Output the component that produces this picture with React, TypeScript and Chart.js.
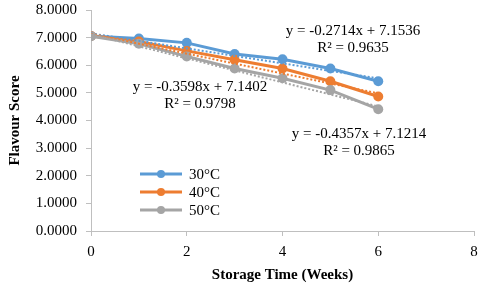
import React, { useEffect, useRef } from "react";
import { Chart, registerables } from "chart.js";

Chart.register(...registerables);

const weeks = [0, 1, 2, 3, 4, 5, 6];
const seriesLabels = ["30°C", "40°C", "50°C"];
const scores30 = [7.06, 6.97, 6.81, 6.41, 6.22, 5.88, 5.42];
const scores40 = [7.06, 6.86, 6.52, 6.2, 5.88, 5.42, 4.87];
const scores50 = [7.05, 6.78, 6.32, 5.88, 5.53, 5.1, 4.41];
const seriesColors = ["#5B9BD5", "#ED7D31", "#A5A5A5"];
const trendSlopes = [-0.2714, -0.3598, -0.4357];
const trendIntercepts = [7.1536, 7.1402, 7.1214];
const trendR2 = ["0.9635", "0.9798", "0.9865"];
const trendRange = [0, 6];
const xTicks = [0, 2, 4, 6, 8];

const FONT = "'Liberation Serif', 'Times New Roman', serif";

export default function App() {
  const ref = useRef<HTMLCanvasElement | null>(null);

  useEffect(() => {
    const canvas = ref.current;
    if (!canvas) return;
    const allScores = [scores30, scores40, scores50];

    const seriesDatasets = allScores.map((vals, i) => ({
      type: "line" as const,
      label: seriesLabels[i],
      data: weeks.map((w, j) => ({ x: w, y: vals[j] })),
      borderColor: seriesColors[i],
      backgroundColor: seriesColors[i],
      borderWidth: 3,
      pointRadius: 5,
      pointHoverRadius: 5,
      pointBorderWidth: 0,
      tension: 0,
      order: 3 - i + 3,
    }));

    const trendDatasets = trendSlopes.map((m, i) => ({
      type: "line" as const,
      label: "trend " + seriesLabels[i],
      data: trendRange.map((x) => ({ x, y: trendIntercepts[i] + m * x })),
      borderColor: seriesColors[i],
      borderWidth: 2,
      borderDash: [2, 2],
      pointRadius: 0,
      tension: 0,
      order: 3 - i,
    }));

    const annotations = [
      { cx: 353, cy: 31, eq: "y = -0.2714x + 7.1536", r2: trendR2[0] },
      { cx: 200, cy: 87, eq: "y = -0.3598x + 7.1402", r2: trendR2[1] },
      { cx: 359, cy: 134, eq: "y = -0.4357x + 7.1214", r2: trendR2[2] },
    ];

    const overlay = {
      id: "overlay",
      afterDatasetsDraw(chart: any) {
        const ctx = chart.ctx;
        ctx.save();
        ctx.font = `15px ${FONT}`;
        ctx.fillStyle = "#000";
        ctx.textAlign = "center";
        ctx.textBaseline = "middle";
        annotations.forEach((a) => {
          ctx.fillText(a.eq, a.cx, a.cy);
          ctx.fillText("R² = " + a.r2, a.cx, a.cy + 17);
        });
        // legend
        const lx0 = 140;
        const lx1 = 182;
        const ys = [174, 192, 210];
        ctx.textAlign = "left";
        seriesLabels.forEach((lab, i) => {
          ctx.strokeStyle = seriesColors[i];
          ctx.lineWidth = 3;
          ctx.beginPath();
          ctx.moveTo(lx0, ys[i]);
          ctx.lineTo(lx1, ys[i]);
          ctx.stroke();
          ctx.fillStyle = seriesColors[i];
          ctx.beginPath();
          ctx.arc((lx0 + lx1) / 2, ys[i], 4, 0, Math.PI * 2);
          ctx.fill();
          ctx.fillStyle = "#000";
          ctx.fillText(lab, 189, ys[i] + 1);
        });
        ctx.restore();
      },
    };

    const chart = new Chart(canvas, {
      type: "line",
      data: { datasets: [...seriesDatasets, ...trendDatasets] as any },
      options: {
        animation: false,
        responsive: false,
        maintainAspectRatio: false,
        layout: { padding: { top: 10, right: 6, left: 0, bottom: 0 } },
        plugins: { legend: { display: false }, tooltip: { enabled: false } },
        scales: {
          x: {
            type: "linear",
            min: 0,
            max: 8,
            afterBuildTicks: (scale: any) => {
              scale.ticks = xTicks.map((v) => ({ value: v }));
            },
            afterFit: (scale: any) => {
              scale.height = 54;
              scale.paddingLeft = 0;
              scale.paddingRight = 0;
            },
            ticks: {
              font: { family: FONT, size: 15 },
              color: "#000",
              padding: 7,
              maxRotation: 0,
            },
            grid: {
              display: true,
              drawOnChartArea: false,
              drawTicks: true,
              tickLength: 5,
              color: "#BFBFBF",
            },
            border: { color: "#BFBFBF", width: 1 },
            title: {
              display: true,
              text: "Storage Time (Weeks)",
              font: { family: FONT, size: 15, weight: "bold" },
              color: "#000",
              padding: { top: 0, bottom: 1 },
            },
          },
          y: {
            min: 0,
            max: 8,
            ticks: {
              stepSize: 1,
              font: { family: FONT, size: 15 },
              color: "#000",
              padding: 9,
              callback: (v: any) => Number(v).toFixed(4),
            },
            afterFit: (scale: any) => {
              scale.width = 91;
              scale.paddingTop = 0;
              scale.paddingBottom = 0;
            },
            grid: {
              display: true,
              drawOnChartArea: false,
              drawTicks: true,
              tickLength: 5,
              color: "#BFBFBF",
            },
            border: { color: "#BFBFBF", width: 1 },
            title: {
              display: true,
              text: "Flavour Score",
              font: { family: FONT, size: 15, weight: "bold" },
              color: "#000",
              padding: { top: 6, bottom: 0 },
            },
          },
        },
      },
      plugins: [overlay],
    });
    return () => chart.destroy();
  }, []);

  return (
    <div style={{ position: "fixed", left: 0, top: 0, width: 480, height: 285, background: "#fff" }}>
      <canvas ref={ref} width={480} height={285} style={{ width: 480, height: 285 }} />
    </div>
  );
}
